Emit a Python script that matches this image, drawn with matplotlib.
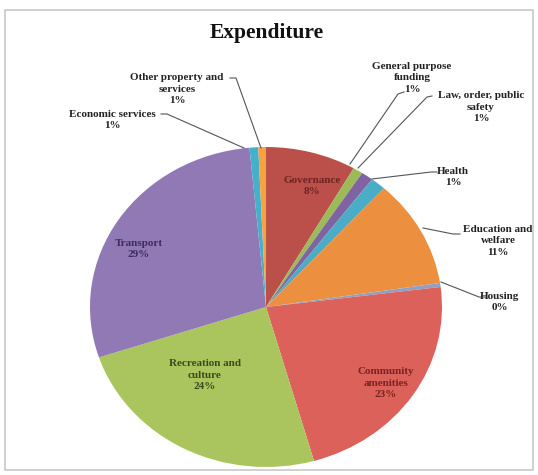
import matplotlib
matplotlib.use('Agg')
import matplotlib.pyplot as plt
from matplotlib.patches import Rectangle

# slices, clockwise from 12 o'clock
categories = ['Governance', 'General purpose\nfunding', 'Law, order, public\nsafety', 'Health',
              'Education and\nwelfare', 'Housing', 'Community\namenities', 'Recreation and\nculture',
              'Transport', 'Economic services', 'Other property and\nservices']
shares = [8.3, 0.9, 1.1, 1.4, 10.9, 0.4, 22.6, 24.3, 28.6, 0.8, 0.7]
colors = ['#bb4f4a', '#9bbb59', '#8064a2', '#4bacc6', '#ec9040', '#8fa0c2',
          '#db615a', '#aac55e', '#9079b5', '#45b0cc', '#f8a13f']

W, H = 538, 475
CX, CY, RX, RY = 266, 307, 176, 160


def d(px, py):
    # pixel position -> data position
    return (px - CX) / RX, (CY - py) / RY


fig = plt.figure(figsize=(W / 100, H / 100), dpi=100)
fig.patch.set_facecolor('white')
ax = fig.add_axes([0, 0, 1, 1])

ax.pie(shares, colors=colors, startangle=90, counterclock=False, radius=1,
       wedgeprops=dict(linewidth=0))
ax.set_aspect('auto')
ax.set_xlim(-CX / RX, (W - CX) / RX)
ax.set_ylim(-(H - CY) / RY, CY / RY)
ax.axis('off')

# chart frame
fig.patches.append(Rectangle((5 / W, 1 - 470 / H), 528 / W, 460 / H, transform=fig.transFigure,
                             fill=False, edgecolor='#c8c8c8', linewidth=1.2))

font = dict(family='Liberation Serif', fontweight='bold', fontsize=8,
            ha='center', va='center', linespacing=1.35)
pct = [f'{round(s)}%' for s in shares]

ax.text(*d(267, 33), 'Expenditure', family='Liberation Serif', fontweight='bold',
        fontsize=15.5, ha='center', va='center', color='#111111')

# labels inside the pie
inside = {0: ((312, 186), '#6e2421'), 8: ((139, 249), '#3d2c5e'),
          7: ((205, 375), '#3b4a1c'), 6: ((386, 383), '#7a2320')}
for i, ((px, py), c) in inside.items():
    ax.text(*d(px, py), categories[i] + '\n' + pct[i], color=c, **font)

# labels outside with leader lines: text centre, leader path
outside = {
    10: ((177, 89), [(230, 78), (236, 78), (261, 148)]),
    9: ((112, 120), [(161, 114), (167, 114), (244, 148)]),
    1: ((412, 78), [(404, 92), (398, 94), (350, 164)]),
    2: ((481, 107), [(432, 96), (427, 97), (358, 168)]),
    3: ((453, 177), [(437, 172), (431, 172), (372, 179)]),
    4: ((498, 241), [(460, 234), (453, 234), (423, 228)]),
    5: ((500, 302), [(486, 297), (479, 297), (441, 282)]),
}
for i, ((px, py), path) in outside.items():
    ax.text(*d(px, py), categories[i] + '\n' + pct[i], color='#222222', **font)
    xs, ys = zip(*[d(x, y) for x, y in path])
    ax.plot(xs, ys, color='#555555', linewidth=0.8)

fig.savefig('out.png', dpi=100)
